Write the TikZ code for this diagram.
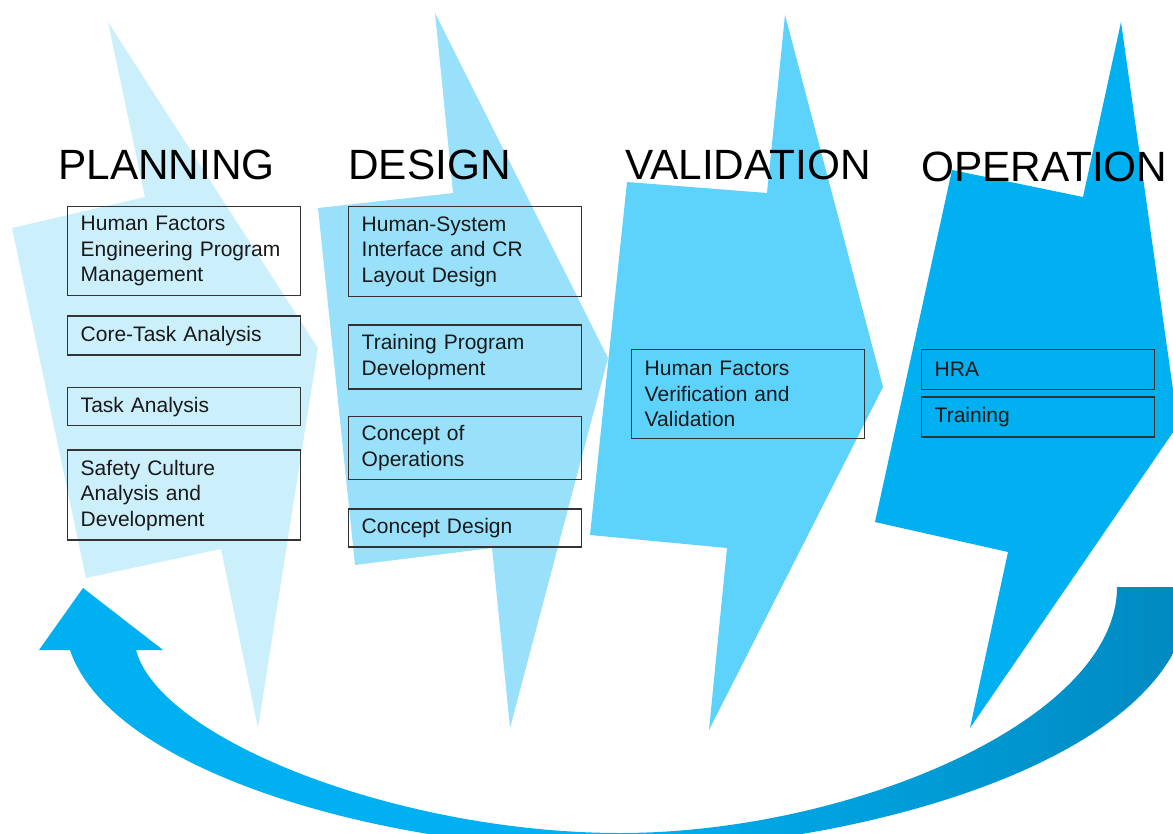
\documentclass[tikz,border=0pt]{standalone}
\usepackage{fontspec}
\setmainfont{Liberation Sans}
\usetikzlibrary{positioning}

\definecolor{planblue}{RGB}{204,239,252}
\definecolor{designblue}{RGB}{153,225,250}
\definecolor{validblue}{RGB}{93,211,252}
\definecolor{opblue}{RGB}{0,176,240}
\definecolor{loopblue}{RGB}{0,137,192}

\begin{document}
\begin{tikzpicture}
  [x=0.75pt,y=-0.75pt,
   phase/.style={anchor=base west,inner sep=0pt,font=\fontsize{31.75}{36}\selectfont},
   task/.style={rectangle,draw=black!80,line width=1.1pt,anchor=north west,
     text width=155.25pt,inner xsep=9.75pt,align=left,text=black!90,
     font=\fontsize{15.75}{19.1}\selectfont}]
  \useasboundingbox (0,0) rectangle (1173,834);
  \clip (0,0) rectangle (1173,834);
  % the four phase bolts
  \fill[planblue] (108,22) -- (318,348) -- (258,728) -- (221,549) -- (86,578) -- (12,228) -- (145,197) -- cycle;
  \fill[designblue] (435,13) -- (608,358) -- (510,728) -- (492,548) -- (355,565) -- (318,208) -- (453,193) -- cycle;
  \fill[validblue] (785,15) -- (883,387) -- (709,730) -- (727,548) -- (590,535) -- (627,182) -- (767,193) -- cycle;
  \fill[opblue] (1121,22) -- (1178,425) -- (970,728) -- (1008,552) -- (875,522) -- (952,170) -- (1083,197) -- cycle;
  % feedback loop
  \shade[left color=opblue,right color=loopblue,middle color=opblue]
    (83,588) -- (163,650) -- (136,650) .. controls (160,740) and (400,833) .. (620,833)
    .. controls (850,833) and (1117,720) .. (1117,587) -- (1190,587) -- (1190,590)
    .. controls (1190,760) and (850,850) .. (620,850)
    .. controls (380,850) and (110,770) .. (70,650) -- (39,650) -- cycle;

  \node[phase] (planning) at (58,180) {PLANNING};
  \node[phase] (design) at (348,180) {DESIGN};
  \node[phase] (validation) at (625,180) {VALIDATION};
  \node[phase] (operation) at (921,182) {OPERATION};

  \node[task,minimum height=66.75pt] (hfepm) at (67,206) {Human Factors\\Engineering Program\\Management};
  \node[task,minimum height=29.25pt,below=14.25pt of hfepm] (coretask) {Core-Task Analysis};
  \node[task,minimum height=28.5pt,below=23.25pt of coretask] (taskan) {Task Analysis};
  \node[task,minimum height=67.5pt,below=17.25pt of taskan] (safety) {Safety Culture\\Analysis and\\Development};

  \node[task,minimum height=67.5pt] (hsi) at (348,206) {Human-System\\Interface and CR\\Layout Design};
  \node[task,minimum height=48pt,below=20.25pt of hsi] (training) {Training Program\\Development};
  \node[task,minimum height=47.25pt,below=19.5pt of training] (conops) {Concept of\\Operations};
  \node[task,minimum height=28.5pt,below=21pt of conops] (concept) {Concept Design};

  \node[task,minimum height=66.75pt] (hfvv) at (631,349) {Human Factors\\Verification and\\Validation};

  \node[task,minimum height=30pt] (hra) at (921,349) {HRA};
  \node[task,minimum height=30pt,below=4.5pt of hra] (optrain) {Training};
\end{tikzpicture}
\end{document}
